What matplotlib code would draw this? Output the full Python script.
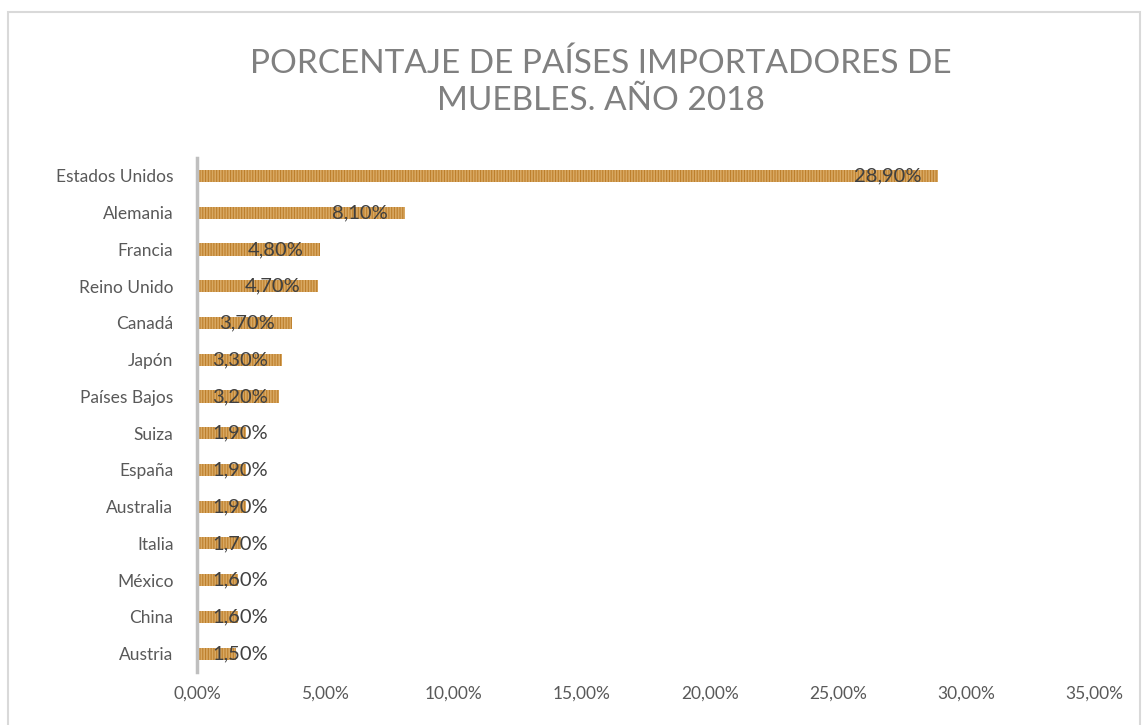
import matplotlib
matplotlib.use("Agg")
import matplotlib.pyplot as plt
from matplotlib.patches import Rectangle

paises = ["Estados Unidos", "Alemania", "Francia", "Reino Unido", "Canadá", "Japón",
          "Países Bajos", "Suiza", "España", "Australia", "Italia", "México", "China", "Austria"]
porcentajes = [28.9, 8.1, 4.8, 4.7, 3.7, 3.3, 3.2, 1.9, 1.9, 1.9, 1.7, 1.6, 1.6, 1.5]
xticks = [0, 5, 10, 15, 20, 25, 30, 35]

plt.rcParams['font.family'] = ['Lato', 'DejaVu Sans']
plt.rcParams['hatch.linewidth'] = 1.2

fig = plt.figure(figsize=(11.47, 7.25), dpi=100)
ax = fig.add_axes([0.1718, 0.0731, 0.954 - 0.1718, 0.7826 - 0.0731])

# chart border like the excel frame
fig.patches.append(Rectangle((8 / 1147, -0.05), (1140 - 8) / 1147, 1.05 - 12 / 725,
                             transform=fig.transFigure, fill=False,
                             edgecolor='#d9d9d9', linewidth=1.5))

y = list(range(len(paises)))
ax.barh(y, porcentajes, height=0.33, color='#bd7f2c', edgecolor='#d8a862',
        linewidth=0, hatch='|' * 6)

for i, v in enumerate(porcentajes):
    txt = f"{v:.2f}".replace('.', ',') + '%'
    if v > 3.5:
        ax.annotate(txt, xy=(v, i), xytext=(-12, 0), textcoords='offset points',
                    ha='right', va='center', fontsize=14.5, color='#404040')
    else:
        ax.annotate(txt, xy=(0, i), xytext=(11, 0), textcoords='offset points',
                    ha='left', va='center', fontsize=14.5, color='#404040')

ax.set_xlim(0, 35)
ax.set_ylim(len(paises) - 0.5, -0.5)
ax.set_yticks(y)
ax.set_yticklabels(paises)
ax.set_xticks(xticks)
ax.set_xticklabels([f"{t:.2f}".replace('.', ',') + '%' for t in xticks])
ax.tick_params(axis='both', length=0, labelsize=12.5, labelcolor='#595959')
ax.tick_params(axis='y', pad=17)
ax.tick_params(axis='x', pad=10)
for s in ['top', 'right', 'bottom']:
    ax.spines[s].set_visible(False)
ax.spines['left'].set_color('#bfbfbf')
ax.spines['left'].set_linewidth(2.5)

fig.text(0.524, 0.887, "PORCENTAJE DE PAÍSES IMPORTADORES DE\nMUEBLES. AÑO 2018",
         ha='center', va='center', fontsize=24, color='#808080', linespacing=1.3)

fig.savefig('out.png', dpi=100)
